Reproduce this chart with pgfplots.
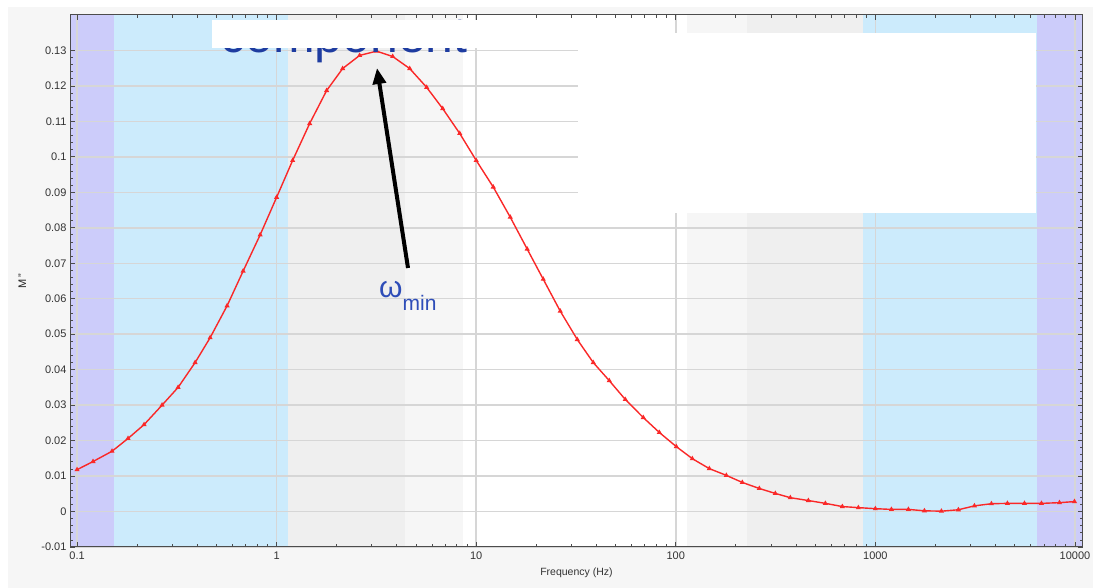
\documentclass[border=0pt]{standalone}
\usepackage{pgfplots}
\pgfplotsset{compat=1.18}
\usepackage{fontspec}
\setmainfont{Liberation Sans}
\usetikzlibrary{arrows.meta}
\pgfdeclarelayer{bglayer}
\pgfplotsset{layers/mylayers/.define layer set={bglayer,axis background,axis grid,axis ticks,axis lines,axis tick labels,main,axis descriptions,axis foreground}{}}
\definecolor{bandpurple}{RGB}{204,204,250}
\definecolor{bandblue}{RGB}{204,235,252}
\definecolor{grayA}{RGB}{239,239,239}
\definecolor{grayB}{RGB}{246,246,246}
\definecolor{panel}{RGB}{246,246,246}
\definecolor{gridc}{RGB}{214,214,214}
\definecolor{curvec}{RGB}{250,40,40}
\definecolor{titleblue}{RGB}{30,60,160}
\definecolor{omblue}{RGB}{46,77,184}
\begin{document}
\begin{tikzpicture}[x=1pt,y=1pt]
\begin{axis}[
  at={(70pt,41pt)}, anchor=south west,
  scale only axis, width=1013pt, height=532pt,
  set layers=mylayers,
  xmode=log, xmin=0.0922, xmax=10970,
  ymin=-0.01, ymax=0.14,
  xtick={0.1,1,10,100,1000,10000},
  xticklabels={0.1,1,10,100,1000,10000},
  minor xtick={0.2,0.3,0.4,0.5,0.6,0.7,0.8,0.9,2,3,4,5,6,7,8,9,20,30,40,50,60,70,80,90,200,300,400,500,600,700,800,900,2000,3000,4000,5000,6000,7000,8000,9000},
  ytick={-0.01,0,0.01,0.02,0.03,0.04,0.05,0.06,0.07,0.08,0.09,0.1,0.11,0.12,0.13},
  yticklabels={-0.01,0,0.01,0.02,0.03,0.04,0.05,0.06,0.07,0.08,0.09,0.1,0.11,0.12,0.13},
  minor y tick num=4,
  grid=major,
  major grid style={gridc, line width=1.5pt},
  axis line style={draw=black!70, line width=1pt},
  tick style={black!70, line width=0.8pt},
  major tick length=5pt, minor tick length=3pt,
  tick align=inside,
  /pgf/number format/assume math mode=true,
  ticklabel style={font=\fontsize{11}{13}\selectfont, text=black!80},
  xticklabel style={yshift=-1pt},
  xlabel={Frequency (Hz)},
  xlabel style={font=\fontsize{10.5}{12}\selectfont, text=black!80, yshift=-2pt},
  ylabel={M\,''},
  ylabel style={font=\fontsize{11}{13}\selectfont, text=black!85, at={(axis description cs:-0.047,0.5)}, anchor=center},
]
% background bands
\addplot[fill=bandpurple, draw=none, on layer=axis background, forget plot] coordinates {(0.0922,-0.01) (0.1533,-0.01) (0.1533,0.14) (0.0922,0.14)} -- cycle;
\addplot[fill=bandblue, draw=none, on layer=axis background, forget plot] coordinates {(0.1533,-0.01) (1.135,-0.01) (1.135,0.14) (0.1533,0.14)} -- cycle;
\addplot[fill=grayA, draw=none, on layer=axis background, forget plot] coordinates {(1.135,-0.01) (4.38,-0.01) (4.38,0.14) (1.135,0.14)} -- cycle;
\addplot[fill=grayB, draw=none, on layer=axis background, forget plot] coordinates {(4.38,-0.01) (8.56,-0.01) (8.56,0.14) (4.38,0.14)} -- cycle;
\addplot[fill=white, draw=none, on layer=axis background, forget plot] coordinates {(8.56,-0.01) (113.6,-0.01) (113.6,0.14) (8.56,0.14)} -- cycle;
\addplot[fill=grayB, draw=none, on layer=axis background, forget plot] coordinates {(113.6,-0.01) (227,-0.01) (227,0.14) (113.6,0.14)} -- cycle;
\addplot[fill=grayA, draw=none, on layer=axis background, forget plot] coordinates {(227,-0.01) (865,-0.01) (865,0.14) (227,0.14)} -- cycle;
\addplot[fill=bandblue, draw=none, on layer=axis background, forget plot] coordinates {(865,-0.01) (6440,-0.01) (6440,0.14) (865,0.14)} -- cycle;
\addplot[fill=bandpurple, draw=none, on layer=axis background, forget plot] coordinates {(6440,-0.01) (10970,-0.01) (10970,0.14) (6440,0.14)} -- cycle;
% curve
\addplot[curvec, line width=1.4pt, mark=triangle*, mark size=1.6pt, mark options={solid, fill=curvec}] table {
f v
0.1 0.0118
0.1203 0.0141
0.1497 0.0170
0.1801 0.0206
0.2167 0.0245
0.2667 0.0300
0.3209 0.0350
0.3905 0.0420
0.4642 0.0490
0.5647 0.0580
0.6795 0.0678
0.8268 0.0780
1.0 0.0886
1.203 0.0990
1.464 0.1094
1.781 0.1187
2.142 0.1249
2.606 0.1286
3.172 0.1298
3.815 0.1283
4.642 0.1249
5.647 0.1196
6.795 0.1136
8.268 0.1066
10 0.0990
12.17 0.0915
14.81 0.0830
18.01 0.0740
21.67 0.0655
26.37 0.0565
32.09 0.0485
38.60 0.0420
46.42 0.0369
55.84 0.0316
68.72 0.0265
82.68 0.0223
100.6 0.0183
121.0 0.0149
147.2 0.0121
179.1 0.0102
215.4 0.0082
262.1 0.0065
315.3 0.0051
374.9 0.0039
461.5 0.0031
561.6 0.0023
683.3 0.0014
821.8 0.0011
1000 0.0008
1203 0.0006
1464 0.0006
1761 0.0002
2142 0.0001
2606 0.0005
3135 0.0016
3815 0.0022
4588 0.0023
5584 0.0023
6795 0.0023
8362 0.0025
9943 0.0028
};
\end{axis}
\begin{pgfonlayer}{bglayer}
\fill[white] (0,0) rectangle (1093,588);
\fill[panel] (8,0) rectangle (1093,581);
\end{pgfonlayer}
% partially hidden title and cover boxes
\node[anchor=base west, text=titleblue, font=\fontsize{50}{60}\selectfont, inner sep=0pt] at (220,535) {component};
\fill[white] (212,540) rectangle (578,568);
\fill[white] (578,375) rectangle (1036,555);
% annotation
\draw[black, line width=4pt, -{Triangle[length=16pt,width=13pt]}] (408,320) -- (377,520);
\node[anchor=base west, text=omblue, inner sep=0pt] at (379,290) {\fontsize{30}{32}\selectfont ω\raisebox{-13pt}{\fontsize{21}{24}\selectfont min}};
\pgfresetboundingbox
\path[use as bounding box] (0,0) rectangle (1093,588);
\end{tikzpicture}
\end{document}
